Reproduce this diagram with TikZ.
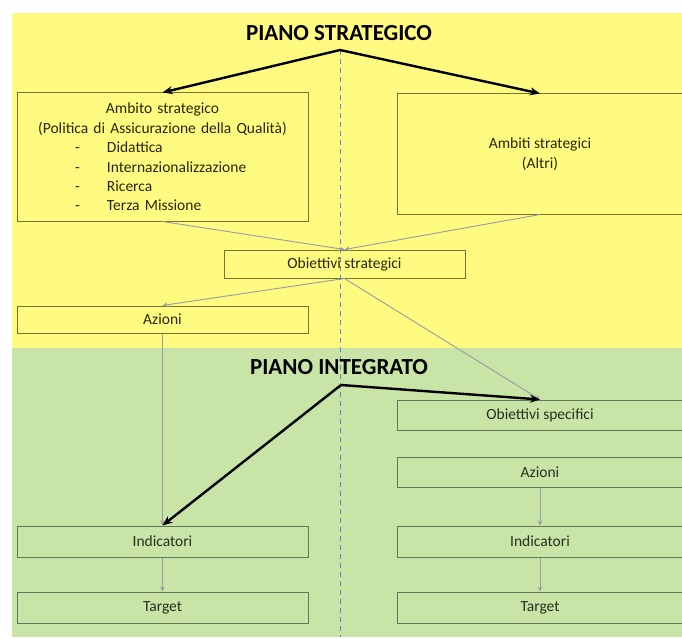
\documentclass[tikz,border=0pt]{standalone}
\usepackage{fontspec}
\setmainfont{Carlito}
\usetikzlibrary{arrows.meta}
\definecolor{bgyellow}{RGB}{255,250,128}
\definecolor{bggreen}{RGB}{200,228,166}
\definecolor{ybord}{RGB}{120,115,50}
\definecolor{gbord}{RGB}{100,118,88}
\definecolor{ytext}{RGB}{40,38,10}
\definecolor{gtext}{RGB}{38,48,32}
\definecolor{grayarrow}{RGB}{150,156,165}
\definecolor{dashblue}{RGB}{80,145,195}
\newcommand{\listitemline}[1]{\makebox[291pt][l]{\hspace*{58pt}\makebox[32pt][l]{-}#1}}
\tikzset{
  box/.style={draw, line width=1pt, inner sep=0pt, anchor=center,
    font=\fontsize{15.5}{19.4}\selectfont},
  ybox/.style={box, draw=ybord, text=ytext},
  gbox/.style={box, draw=gbord, text=gtext},
  titlelabel/.style={font=\fontsize{23}{26}\selectfont\bfseries, text=black, inner sep=0pt},
  bigarrow/.style={-{Stealth[length=10pt,width=8pt]}, line width=2.4pt, draw=black},
  smallarrow/.style={-{Stealth[length=5pt,width=4.5pt]}, line width=0.9pt, draw=grayarrow},
  dashline/.style={draw=dashblue, line width=0.9pt, dash pattern=on 5pt off 4pt}
}
\begin{document}
\begin{tikzpicture}[x=1pt,y=-1pt]
\useasboundingbox (0,0) rectangle (682,639);
\clip (0,0) rectangle (682,639);
% backgrounds
\fill[white] (0,0) rectangle (682,639);
\fill[bgyellow] (12,13) rectangle (682,348);
\fill[bggreen] (12,348) rectangle (682,637);

% coordinates
\coordinate (apexA) at (340,50);
\coordinate (apexB) at (341,385);
\coordinate (dashend) at (340,637);

% yellow boxes
\node[ybox, minimum width=291pt, minimum height=128pt, text width=291pt, align=center] (lbox) at (162.5,157)
  {Ambito strategico\\(Politica di Assicurazione della Qualità)\\\listitemline{Didattica}\\\listitemline{Internazionalizzazione}\\\listitemline{Ricerca}\\\listitemline{Terza Missione}};
\node[ybox, minimum width=286pt, minimum height=120pt, align=center] (rbox) at (540,154)
  {Ambiti strategici\\(Altri)};
\node[ybox, minimum width=241pt, minimum height=28pt] (obstrat) at (344.5,264) {Obiettivi strategici};
\node[ybox, minimum width=291pt, minimum height=27pt] (azL) at (162.5,319.5) {Azioni};

% green boxes
\node[gbox, minimum width=291pt, minimum height=31pt] (indL) at (162.5,541.5) {Indicatori};
\node[gbox, minimum width=291pt, minimum height=31pt] (targL) at (162.5,607.5) {Target};
\node[gbox, minimum width=286pt, minimum height=30pt] (obspec) at (540,415) {Obiettivi specifici};
\node[gbox, minimum width=286pt, minimum height=30pt] (azR) at (540,472) {Azioni};
\node[gbox, minimum width=286pt, minimum height=31pt] (indR) at (540,541.5) {Indicatori};
\node[gbox, minimum width=286pt, minimum height=31pt] (targR) at (540,607.5) {Target};

% gray connectors
\draw[smallarrow] (lbox.south) -- (obstrat.north);
\draw[smallarrow] (rbox.south) -- (obstrat.north);
\draw[smallarrow] (obstrat.south) -- (azL.north);
\draw[smallarrow] (obstrat.south) -- (obspec.north);
\draw[smallarrow] (azL.south) -- (indL.north);
\draw[smallarrow] (indL.south) -- (targL.north);
\draw[smallarrow] (azR.south) -- (indR.north);
\draw[smallarrow] (indR.south) -- (targR.north);

% dashed divider
\draw[dashline] (apexA) -- (dashend);

% black connectors
\draw[bigarrow] (apexA) -- (lbox.north);
\draw[bigarrow] (apexA) -- (rbox.north);
\draw[bigarrow] (apexB) -- (indL.north);
\draw[bigarrow] (apexB) -- (obspec.north);

% titles
\node[titlelabel] (titleA) at (339,33) {PIANO STRATEGICO};
\node[titlelabel] (titleB) at (339,367) {PIANO INTEGRATO};
\end{tikzpicture}
\end{document}
